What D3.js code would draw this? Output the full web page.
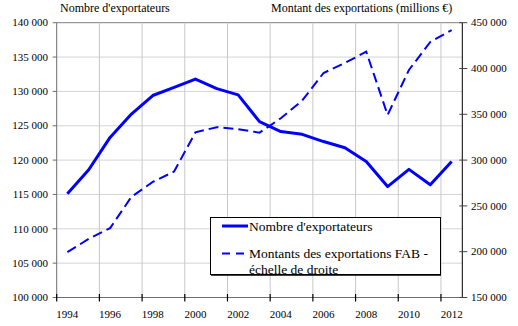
<!DOCTYPE html>
<html><head><meta charset="utf-8">
<script src="https://cdn.jsdelivr.net/npm/d3@7"></script>
<style>body{margin:0;background:#fff}svg{display:block}text{font-family:"Liberation Serif","Times New Roman",serif}</style>
</head><body><svg id="c" width="518" height="326"></svg>
<script>
const years = [1994,1995,1996,1997,1998,1999,2000,2001,2002,2003,2004,2005,2006,2007,2008,2009,2010,2011,2012];
const exportateurs = [115100,118600,123300,126700,129400,130600,131800,130400,129500,125600,124150,123750,122700,121800,119800,116150,118650,116400,119800];
const montants = [199500,214000,225700,259900,276200,287500,330400,335900,333700,330000,345700,365000,395100,406000,418400,349300,398400,429000,442000];
const leftTicks = [100000,105000,110000,115000,120000,125000,130000,135000,140000];
const rightTicks = [150000,200000,250000,300000,350000,400000,450000];
const xLabels = [1994,1996,1998,2000,2002,2004,2006,2008,2010,2012];
const leftTitle = "Nombre d'exportateurs";
const rightTitle = "Montant des exportations (millions €)";
const legend1 = "Nombre d'exportateurs";
const legend2 = ["Montants des exportations FAB -", "échelle de droite"];

const FONT = "'Liberation Serif', 'Times New Roman', serif";
const svg = d3.select("#c");
const L = 56.7, R = 462.3, T = 22.7, B = 297.5;
const x = d3.scaleBand().domain(years).range([L, R]);
const yL = d3.scaleLinear().domain([100000,140000]).range([B, T]);
const yR = d3.scaleLinear().domain([150000,450000]).range([B, T]);
const fmt = d3.formatLocale({decimal:",", thousands:" ", grouping:[3], currency:["","€"]}).format(",d");

// grid
const g = svg.append("g");
g.selectAll(".hg").data(leftTicks).join("line")
  .attr("x1", L).attr("x2", R).attr("y1", d=>yL(d)).attr("y2", d=>yL(d))
  .attr("stroke", d=> d===140000 ? "#808080" : "#d4d4d4").attr("stroke-width",1);
const tickYears = years.filter((d,i)=>i%2===0);
g.selectAll(".vg").data(tickYears.slice(1)).join("line")
  .attr("x1", d=>x(d)).attr("x2", d=>x(d)).attr("y1", T).attr("y2", B)
  .attr("stroke", "#c8c8c8").attr("stroke-width",1);

// axes lines
svg.append("line").attr("x1",L).attr("x2",L).attr("y1",T).attr("y2",B).attr("stroke","#6e6e6e");
svg.append("line").attr("x1",L-2).attr("x2",R).attr("y1",B).attr("y2",B).attr("stroke","#6e6e6e");
svg.append("line").attr("x1",R).attr("x2",R).attr("y1",T).attr("y2",B).attr("stroke","#000");

// left ticks
svg.selectAll(".lt").data(leftTicks).join("line")
  .attr("x1",L-4).attr("x2",L).attr("y1",d=>yL(d)).attr("y2",d=>yL(d)).attr("stroke","#6e6e6e");
svg.selectAll(".ll").data(leftTicks).join("text")
  .attr("x",48).attr("y",d=>yL(d)).attr("dy","0.34em").attr("text-anchor","end")
  .attr("font-family",FONT).attr("font-size",11).text(d=>fmt(d));
// right ticks
svg.selectAll(".rt").data(rightTicks).join("line")
  .attr("x1",R-3).attr("x2",R+5).attr("y1",d=>yR(d)).attr("y2",d=>yR(d)).attr("stroke","#444");
svg.selectAll(".rl").data(rightTicks).join("text")
  .attr("x",471).attr("y",d=>yR(d)).attr("dy","0.34em").attr("text-anchor","start")
  .attr("font-family",FONT).attr("font-size",11).text(d=>fmt(d));
// x ticks
svg.selectAll(".xt").data(tickYears).join("line")
  .attr("x1",d=>x(d)).attr("x2",d=>x(d)).attr("y1",B-3.5).attr("y2",B+4).attr("stroke","#000").attr("stroke-width",1.2);
svg.selectAll(".xl").data(xLabels).join("text")
  .attr("x",d=>x(d)+x.bandwidth()/2).attr("y",318).attr("text-anchor","middle")
  .attr("font-family",FONT).attr("font-size",11).text(d=>d);

// titles
svg.append("text").attr("x",60).attr("y",12).attr("font-family",FONT).attr("font-size",12).text(leftTitle);
svg.append("text").attr("x",271).attr("y",12).attr("font-family",FONT).attr("font-size",12).text(rightTitle);

// lines
const cx = d => x(d)+x.bandwidth()/2;
svg.append("path").datum(montants)
  .attr("d", d3.line().x((d,i)=>cx(years[i])).y(d=>yR(d)))
  .attr("fill","none").attr("stroke","#0000ff").attr("stroke-width",2).attr("stroke-dasharray","10,5");
svg.append("path").datum(exportateurs)
  .attr("d", d3.line().x((d,i)=>cx(years[i])).y(d=>yL(d)))
  .attr("fill","none").attr("stroke","#0000ff").attr("stroke-width",3).attr("stroke-linejoin","round");

// legend
const lg = svg.append("g");
lg.append("rect").attr("x",210.5).attr("y",217.5).attr("width",230).attr("height",57).attr("fill","#fff").attr("stroke","#000").attr("stroke-width",1);
lg.append("line").attr("x1",211).attr("x2",441).attr("y1",275.2).attr("y2",275.2).attr("stroke","#000").attr("stroke-width",1.2);
lg.append("line").attr("x1",222).attr("x2",248).attr("y1",226).attr("y2",226).attr("stroke","#0000ff").attr("stroke-width",3);
lg.append("line").attr("x1",222).attr("x2",248).attr("y1",253.5).attr("y2",253.5).attr("stroke","#0000ff").attr("stroke-width",2).attr("stroke-dasharray","8,6");
lg.append("text").attr("x",249).attr("y",231).attr("font-family",FONT).attr("font-size",13.5).text(legend1);
lg.selectAll(".l2").data(legend2).join("text")
  .attr("x",249).attr("y",(d,i)=>257.5+i*16).attr("font-family",FONT).attr("font-size",13.5).text(d=>d);
</script></body></html>
